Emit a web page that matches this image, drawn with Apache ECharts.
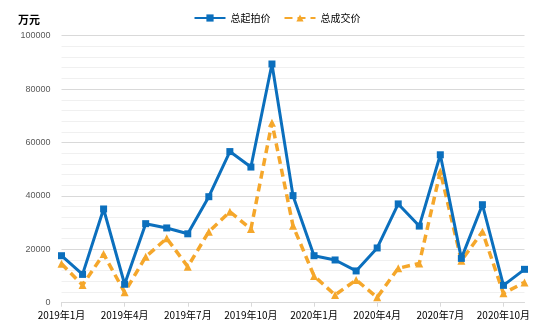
<!DOCTYPE html>
<html>
<head>
<meta charset="utf-8">
<script src="https://cdn.jsdelivr.net/npm/echarts@6/dist/echarts.min.js"></script>
<style>
  html, body { margin: 0; padding: 0; background: #fff; }
  #chart { width: 554px; height: 332px; }
</style>
</head>
<body>
<div id="chart"></div>
<script>
// Monthly categories, Jan 2019 – Nov 2020
const months = [
  '2019年1月','2019年2月','2019年3月','2019年4月','2019年5月','2019年6月',
  '2019年7月','2019年8月','2019年9月','2019年10月','2019年11月','2019年12月',
  '2020年1月','2020年2月','2020年3月','2020年4月','2020年5月','2020年6月',
  '2020年7月','2020年8月','2020年9月','2020年10月','2020年11月'
];

// 总起拍价 (万元)
const startPrice = [
  17600, 10600, 35100, 6900, 29600, 28000, 25800, 39700, 56600, 50800, 89400, 40100,
  17600, 16000, 11900, 20500, 37000, 28700, 55400, 16600, 36700, 6500, 12500
];

// 总成交价 (万元)
const dealPrice = [
  14600, 6600, 18200, 3900, 17200, 24100, 13500, 26600, 34100, 27600, 67400, 28800,
  10000, 2900, 8500, 2000, 12900, 14700, 49100, 15700, 26600, 3500, 7600
];

const seriesNames = ['总起拍价', '总成交价'];
const unitLabel = '万元';

const chart = echarts.init(document.getElementById('chart'), null, { renderer: 'canvas' });

chart.setOption({
  animation: false,
  backgroundColor: '#ffffff',
  title: {
    text: unitLabel,
    left: 13,
    top: 9,
    textStyle: { fontSize: 11, fontWeight: 'bold', color: '#000', fontFamily: 'Noto Sans CJK SC' }
  },
  legend: {
    top: 8,
    left: 'center',
    itemWidth: 31,
    itemHeight: 9,
    itemGap: 13,
    textStyle: { fontSize: 10, color: '#000', fontFamily: 'Noto Sans CJK SC' },
    data: seriesNames
  },
  grid: { left: 61.5, right: 29.5, top: 35.7, bottom: 29.3, containLabel: false },
  xAxis: {
    type: 'category',
    boundaryGap: false,
    data: months,
    axisLine: { lineStyle: { color: '#d9d9d9', width: 1 } },
    axisTick: { interval: 2, length: 4, lineStyle: { color: '#d9d9d9' } },
    axisLabel: {
      interval: 2,
      margin: 8,
      fontSize: 10,
      color: '#000',
      fontFamily: 'Noto Sans CJK SC'
    },
    splitLine: { show: false }
  },
  yAxis: {
    type: 'value',
    min: 0,
    max: 100000,
    interval: 20000,
    axisLine: { show: false },
    axisTick: { show: false },
    axisLabel: {
      fontSize: 9,
      color: '#595959',
      margin: 11,
      fontFamily: 'Liberation Sans',
      formatter: (v) => String(v)
    },
    splitLine: { lineStyle: { color: '#d9d9d9', width: 1 } },
    minorTick: { show: false, splitNumber: 5 },
    minorSplitLine: { show: true, lineStyle: { color: '#f0f0f0', width: 1 } }
  },
  series: [
    {
      name: seriesNames[0],
      type: 'line',
      data: startPrice,
      symbol: 'rect',
      symbolSize: 7,
      z: 3,
      lineStyle: { color: '#0B6FBD', width: 3 },
      itemStyle: { color: '#0B6FBD' }
    },
    {
      name: seriesNames[1],
      type: 'line',
      data: dealPrice,
      symbol: 'triangle',
      symbolSize: 8,
      z: 2,
      lineStyle: { color: '#F5A72B', width: 3.5, type: [8, 5] },
      itemStyle: { color: '#F5A72B' }
    }
  ]
});
</script>
</body>
</html>
